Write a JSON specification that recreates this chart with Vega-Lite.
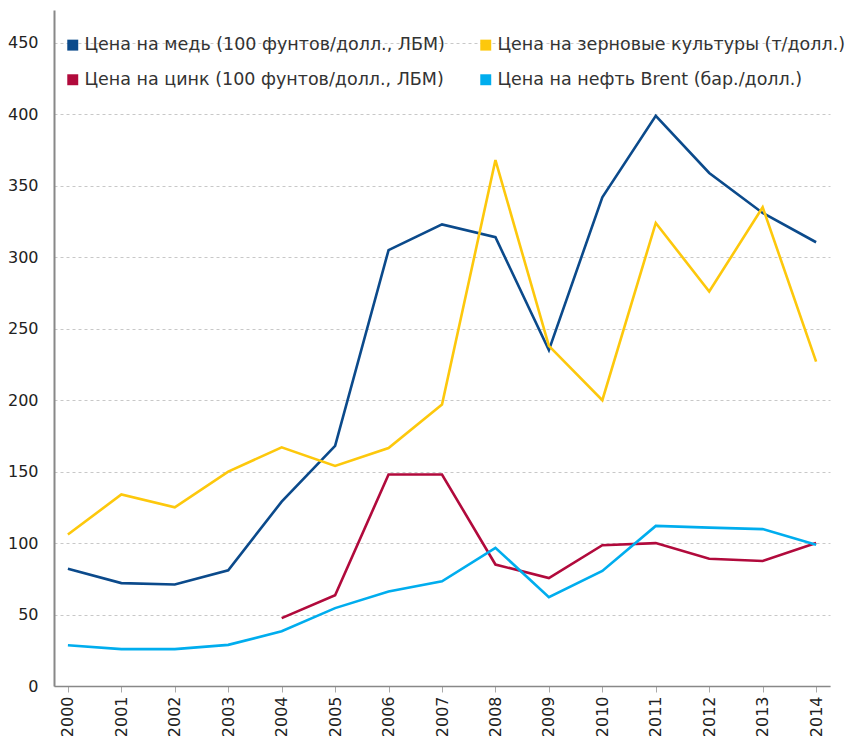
{
  "$schema": "https://vega.github.io/schema/vega-lite/v6.json",
  "autosize": "none",
  "width": 776,
  "height": 676,
  "padding": {"left": 54, "top": 10, "right": 18, "bottom": 55},
  "background": "white",
  "config": {
    "font": "DejaVu Sans",
    "view": {"stroke": null}
  },
  "data": {
    "values": [
      {"year": "2000", "series": "Цена на медь (100 фунтов/долл., ЛБМ)", "value": 82},
      {"year": "2001", "series": "Цена на медь (100 фунтов/долл., ЛБМ)", "value": 72},
      {"year": "2002", "series": "Цена на медь (100 фунтов/долл., ЛБМ)", "value": 71},
      {"year": "2003", "series": "Цена на медь (100 фунтов/долл., ЛБМ)", "value": 81},
      {"year": "2004", "series": "Цена на медь (100 фунтов/долл., ЛБМ)", "value": 129},
      {"year": "2005", "series": "Цена на медь (100 фунтов/долл., ЛБМ)", "value": 168},
      {"year": "2006", "series": "Цена на медь (100 фунтов/долл., ЛБМ)", "value": 305},
      {"year": "2007", "series": "Цена на медь (100 фунтов/долл., ЛБМ)", "value": 323},
      {"year": "2008", "series": "Цена на медь (100 фунтов/долл., ЛБМ)", "value": 314},
      {"year": "2009", "series": "Цена на медь (100 фунтов/долл., ЛБМ)", "value": 235},
      {"year": "2010", "series": "Цена на медь (100 фунтов/долл., ЛБМ)", "value": 342},
      {"year": "2011", "series": "Цена на медь (100 фунтов/долл., ЛБМ)", "value": 399},
      {"year": "2012", "series": "Цена на медь (100 фунтов/долл., ЛБМ)", "value": 359},
      {"year": "2013", "series": "Цена на медь (100 фунтов/долл., ЛБМ)", "value": 331},
      {"year": "2014", "series": "Цена на медь (100 фунтов/долл., ЛБМ)", "value": 310.5},
      {"year": "2000", "series": "Цена на зерновые культуры (т/долл.)", "value": 106},
      {"year": "2001", "series": "Цена на зерновые культуры (т/долл.)", "value": 134},
      {"year": "2002", "series": "Цена на зерновые культуры (т/долл.)", "value": 125},
      {"year": "2003", "series": "Цена на зерновые культуры (т/долл.)", "value": 150},
      {"year": "2004", "series": "Цена на зерновые культуры (т/долл.)", "value": 167},
      {"year": "2005", "series": "Цена на зерновые культуры (т/долл.)", "value": 154},
      {"year": "2006", "series": "Цена на зерновые культуры (т/долл.)", "value": 166.5},
      {"year": "2007", "series": "Цена на зерновые культуры (т/долл.)", "value": 197},
      {"year": "2008", "series": "Цена на зерновые культуры (т/долл.)", "value": 368},
      {"year": "2009", "series": "Цена на зерновые культуры (т/долл.)", "value": 238},
      {"year": "2010", "series": "Цена на зерновые культуры (т/долл.)", "value": 200},
      {"year": "2011", "series": "Цена на зерновые культуры (т/долл.)", "value": 324},
      {"year": "2012", "series": "Цена на зерновые культуры (т/долл.)", "value": 276},
      {"year": "2013", "series": "Цена на зерновые культуры (т/долл.)", "value": 335},
      {"year": "2014", "series": "Цена на зерновые культуры (т/долл.)", "value": 227},
      {"year": "2004", "series": "Цена на цинк (100 фунтов/долл., ЛБМ)", "value": 47.5},
      {"year": "2005", "series": "Цена на цинк (100 фунтов/долл., ЛБМ)", "value": 63.5},
      {"year": "2006", "series": "Цена на цинк (100 фунтов/долл., ЛБМ)", "value": 148},
      {"year": "2007", "series": "Цена на цинк (100 фунтов/долл., ЛБМ)", "value": 148},
      {"year": "2008", "series": "Цена на цинк (100 фунтов/долл., ЛБМ)", "value": 85},
      {"year": "2009", "series": "Цена на цинк (100 фунтов/долл., ЛБМ)", "value": 75.5},
      {"year": "2010", "series": "Цена на цинк (100 фунтов/долл., ЛБМ)", "value": 98.5},
      {"year": "2011", "series": "Цена на цинк (100 фунтов/долл., ЛБМ)", "value": 100},
      {"year": "2012", "series": "Цена на цинк (100 фунтов/долл., ЛБМ)", "value": 89},
      {"year": "2013", "series": "Цена на цинк (100 фунтов/долл., ЛБМ)", "value": 87.5},
      {"year": "2014", "series": "Цена на цинк (100 фунтов/долл., ЛБМ)", "value": 100},
      {"year": "2000", "series": "Цена на нефть Brent (бар./долл.)", "value": 28.5},
      {"year": "2001", "series": "Цена на нефть Brent (бар./долл.)", "value": 25.8},
      {"year": "2002", "series": "Цена на нефть Brent (бар./долл.)", "value": 25.8},
      {"year": "2003", "series": "Цена на нефть Brent (бар./долл.)", "value": 28.8},
      {"year": "2004", "series": "Цена на нефть Brent (бар./долл.)", "value": 38.3},
      {"year": "2005", "series": "Цена на нефть Brent (бар./долл.)", "value": 54.5},
      {"year": "2006", "series": "Цена на нефть Brent (бар./долл.)", "value": 66.2},
      {"year": "2007", "series": "Цена на нефть Brent (бар./долл.)", "value": 73.3},
      {"year": "2008", "series": "Цена на нефть Brent (бар./долл.)", "value": 96.7},
      {"year": "2009", "series": "Цена на нефть Brent (бар./долл.)", "value": 62.2},
      {"year": "2010", "series": "Цена на нефть Brent (бар./долл.)", "value": 80.5},
      {"year": "2011", "series": "Цена на нефть Brent (бар./долл.)", "value": 112},
      {"year": "2012", "series": "Цена на нефть Brent (бар./долл.)", "value": 110.8},
      {"year": "2013", "series": "Цена на нефть Brent (бар./долл.)", "value": 109.8},
      {"year": "2014", "series": "Цена на нефть Brent (бар./долл.)", "value": 98.8}
    ]
  },
  "mark": {"type": "line", "strokeWidth": 2.6, "strokeJoin": "miter"},
  "encoding": {
    "x": {
      "field": "year",
      "type": "ordinal",
      "scale": {"type": "point", "padding": 0.26},
      "axis": {
        "title": null,
        "labelAngle": 270,
        "labelAlign": "right",
        "labelBaseline": "middle",
        "labelFontSize": 16,
        "labelColor": "#222",
        "labelPadding": 4,
        "domainColor": "#888",
        "domainWidth": 1.5,
        "tickColor": "#aaa",
        "tickSize": 6,
        "grid": false
      }
    },
    "y": {
      "field": "value",
      "type": "quantitative",
      "scale": {"domain": [0, 473], "nice": false},
      "axis": {
        "title": null,
        "values": [0, 50, 100, 150, 200, 250, 300, 350, 400, 450],
        "labelFontSize": 16,
        "labelColor": "#222",
        "labelPadding": 16,
        "ticks": false,
        "domainColor": "#888",
        "domainWidth": 2,
        "gridColor": "#c8c8c8",
        "gridDash": [3, 3],
        "gridWidth": 1
      }
    },
    "color": {
      "field": "series",
      "type": "nominal",
      "scale": {
        "domain": [
          "Цена на медь (100 фунтов/долл., ЛБМ)",
          "Цена на цинк (100 фунтов/долл., ЛБМ)",
          "Цена на зерновые культуры (т/долл.)",
          "Цена на нефть Brent (бар./долл.)"
        ],
        "range": ["#0b4a8b", "#b10a3c", "#fdc80c", "#00adee"]
      },
      "legend": {
        "title": null,
        "orient": "none",
        "legendX": 10,
        "legendY": 26,
        "padding": 0,
        "columns": 2,
        "columnPadding": 32,
        "rowPadding": 16,
        "symbolType": "square",
        "symbolSize": 120,
        "symbolStrokeWidth": 0,
        "symbolOffset": 0,
        "labelFontSize": 17.5,
        "labelColor": "#333",
        "labelOffset": 3,
        "labelLimit": 500,
        "encode": {
          "symbols": {"update": {"fill": {"scale": "color", "field": "value"}, "opacity": {"value": 1}}}
        }
      }
    }
  }
}
